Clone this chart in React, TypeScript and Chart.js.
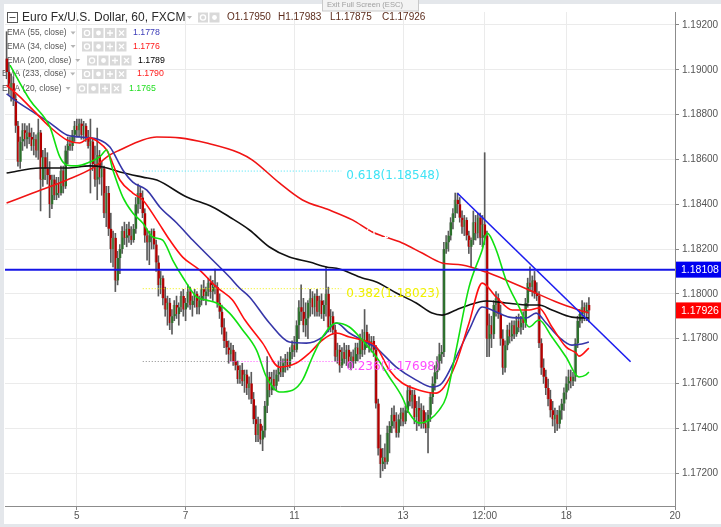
import React, { useEffect, useRef } from "react";
import { Chart, registerables } from "chart.js";
Chart.register(...registerables);

// ---------- data ----------
const candleOpen = [
1.1905,1.1899,1.1892,1.1894,1.1887,1.1875,1.1859,1.1868,1.1873,1.1869,
1.1872,1.1870,1.1866,1.1869,1.1864,1.1872,1.1851,1.1861,1.1856,1.1853,
1.1840,1.1851,1.1844,1.1849,1.1845,1.1855,1.1848,1.1864,1.1867,1.1866,
1.1871,1.1875,1.1873,1.1876,1.1871,1.1875,1.1870,1.1866,1.1868,1.1858,
1.1851,1.1862,1.1852,1.1856,1.1836,1.1845,1.1829,1.1820,1.1825,1.1806,
1.1816,1.1820,1.1828,1.1825,1.1829,1.1826,1.1824,1.1829,1.1840,1.1845,
1.1843,1.1836,1.1826,1.1823,1.1826,1.1828,1.1822,1.1814,1.1804,1.1807,
1.1798,1.1793,1.1796,1.1787,1.1790,1.1795,1.1791,1.1794,1.1799,1.1793,
1.1796,1.1801,1.1795,1.1797,1.1800,1.1794,1.1797,1.1802,1.1799,1.1801,
1.1805,1.1801,1.1804,1.1803,1.1796,1.1792,1.1785,1.1779,1.1776,1.1773,
1.1775,1.1770,1.1768,1.1762,1.1766,1.1761,1.1764,1.1758,1.1760,1.1753,
1.1744,1.1737,1.1742,1.1735,1.1739,1.1750,1.1763,1.1757,1.1762,1.1759,
1.1764,1.1767,1.1765,1.1769,1.1771,1.1768,1.1774,1.1777,1.1775,1.1786,
1.1794,1.1792,1.1786,1.1789,1.1796,1.1798,1.1794,1.1799,1.1792,1.1797,
1.1791,1.1795,1.1800,1.1785,1.1790,1.1784,1.1772,1.1775,1.1768,1.1774,
1.1771,1.1775,1.1769,1.1772,1.1770,1.1776,1.1773,1.1780,1.1775,1.1783,
1.1779,1.1777,1.1779,1.1775,1.1751,1.1731,1.1724,1.1727,1.1725,1.1738,
1.1741,1.1746,1.1743,1.1738,1.1744,1.1747,1.1743,1.1748,1.1757,1.1752,
1.1755,1.1745,1.1749,1.1743,1.1748,1.1742,1.1740,1.1746,1.1754,1.1760,
1.1765,1.1770,1.1773,1.1774,1.1820,1.1823,1.1826,1.1832,1.1836,1.1842,
1.1840,1.1834,1.1830,1.1833,1.1826,1.1821,1.1824,1.1832,1.1827,1.1834,
1.1825,1.1831,1.1826,1.1780,1.1786,1.1782,1.1795,1.1798,1.1791,1.1780,
1.1767,1.1777,1.1784,1.1781,1.1786,1.1782,1.1788,1.1785,1.1789,1.1787,
1.1796,1.1805,1.1803,1.1806,1.1800,1.1799,1.1778,1.1767,1.1763,1.1758,
1.1753,1.1748,1.1744,1.1746,1.1742,1.1748,1.1751,1.1756,1.1760,1.1763,
1.1761,1.1763,1.1778,1.1788,1.1791,1.1794,1.1792,1.17950];

const candleHigh = [
1.1917,1.1903,1.1898,1.1897,1.1889,1.1877,1.1870,1.1876,1.1876,1.1875,
1.1876,1.1874,1.1872,1.1871,1.1878,1.1873,1.1864,1.1865,1.1863,1.1859,
1.1853,1.1853,1.1852,1.1852,1.1857,1.1857,1.1866,1.1870,1.1870,1.1873,
1.1877,1.1878,1.1878,1.1878,1.1877,1.1876,1.1873,1.1878,1.1869,1.1866,
1.1874,1.1864,1.1859,1.1857,1.1848,1.1848,1.1836,1.1828,1.1827,1.1819,
1.1822,1.1830,1.1832,1.1831,1.1832,1.1830,1.1831,1.1843,1.1849,1.1848,
1.1846,1.1838,1.1829,1.1828,1.1829,1.1829,1.1824,1.1817,1.1810,1.1808,
1.1803,1.1799,1.1798,1.1793,1.1797,1.1799,1.1796,1.1801,1.1802,1.1798,
1.1804,1.1803,1.1799,1.1802,1.1801,1.1799,1.1804,1.1806,1.1803,1.1807,
1.1808,1.1806,1.1811,1.1805,1.1800,1.1795,1.1789,1.1783,1.1779,1.1778,
1.1777,1.1774,1.1770,1.1768,1.1769,1.1766,1.1766,1.1763,1.1765,1.1756,
1.1750,1.1745,1.1744,1.1741,1.1752,1.1772,1.1765,1.1765,1.1766,1.1766,
1.1770,1.1772,1.1771,1.1773,1.1774,1.1776,1.1779,1.1781,1.1788,1.1797,
1.1804,1.1798,1.1796,1.1797,1.1802,1.1801,1.1800,1.1802,1.1799,1.1800,
1.1797,1.1812,1.1803,1.1793,1.1792,1.1786,1.1778,1.1777,1.1776,1.1778,
1.1777,1.1777,1.1774,1.1775,1.1778,1.1778,1.1782,1.1784,1.1793,1.1786,
1.1782,1.1781,1.1781,1.1777,1.1753,1.1737,1.1731,1.1733,1.1741,1.1743,
1.1749,1.1750,1.1747,1.1746,1.1749,1.1749,1.1750,1.1759,1.1759,1.1757,
1.1757,1.1752,1.1754,1.1751,1.1750,1.1747,1.1748,1.1756,1.1763,1.1768,
1.1772,1.1778,1.1777,1.1823,1.1826,1.1828,1.1834,1.1838,1.1845,1.1845,
1.1843,1.1837,1.1835,1.1834,1.1828,1.1825,1.1837,1.1835,1.1836,1.1836,
1.1835,1.1863,1.1828,1.1791,1.1790,1.1797,1.1801,1.1800,1.1795,1.1784,
1.1779,1.1786,1.1787,1.1788,1.1788,1.1790,1.1791,1.1790,1.1792,1.1798,
1.1807,1.1812,1.1808,1.1810,1.1805,1.1801,1.1780,1.1771,1.1766,1.1762,
1.1757,1.1752,1.1749,1.1748,1.1750,1.1753,1.1758,1.1763,1.1766,1.1766,
1.1765,1.1780,1.1790,1.1793,1.1797,1.1796,1.1796,1.17983];

const candleLow = [
1.1896,1.1889,1.1886,1.1884,1.1872,1.1857,1.1856,1.1864,1.1866,1.1865,
1.1867,1.1864,1.1862,1.1861,1.1860,1.1837,1.1848,1.1851,1.1849,1.1834,
1.1838,1.1842,1.1842,1.1843,1.1844,1.1845,1.1847,1.1858,1.1864,1.1864,
1.1868,1.1870,1.1870,1.1869,1.1869,1.1868,1.1865,1.1845,1.1855,1.1848,
1.1842,1.1849,1.1844,1.1834,1.1830,1.1826,1.1814,1.1812,1.1801,1.1804,
1.1809,1.1818,1.1822,1.1821,1.1823,1.1822,1.1823,1.1827,1.1836,1.1838,
1.1834,1.1823,1.1815,1.1813,1.1820,1.1820,1.1810,1.1799,1.1800,1.1795,
1.1790,1.1786,1.1784,1.1782,1.1788,1.1789,1.1786,1.1792,1.1790,1.1788,
1.1794,1.1793,1.1790,1.1794,1.1791,1.1791,1.1795,1.1797,1.1795,1.1799,
1.1798,1.1797,1.1800,1.1794,1.1789,1.1782,1.1776,1.1773,1.1769,1.1770,
1.1768,1.1766,1.1760,1.1760,1.1759,1.1756,1.1755,1.1753,1.1751,1.1742,
1.1734,1.1734,1.1733,1.1730,1.1736,1.1747,1.1754,1.1755,1.1757,1.1757,
1.1761,1.1763,1.1763,1.1765,1.1766,1.1767,1.1771,1.1772,1.1774,1.1780,
1.1788,1.1783,1.1781,1.1780,1.1790,1.1791,1.1790,1.1790,1.1790,1.1789,
1.1788,1.1790,1.1783,1.1783,1.1782,1.1770,1.1769,1.1765,1.1767,1.1769,
1.1768,1.1767,1.1766,1.1767,1.1769,1.1770,1.1771,1.1772,1.1773,1.1776,
1.1774,1.1774,1.1772,1.1749,1.1728,1.1718,1.1721,1.1722,1.1724,1.1729,
1.1738,1.1740,1.1736,1.1736,1.1741,1.1741,1.1742,1.1747,1.1750,1.1749,
1.1742,1.1739,1.1741,1.1740,1.1740,1.1738,1.1729,1.1743,1.1751,1.1757,
1.1762,1.1766,1.1769,1.1772,1.1818,1.1819,1.1824,1.1829,1.1834,1.1836,
1.1832,1.1827,1.1826,1.1824,1.1818,1.1812,1.1822,1.1824,1.1825,1.1822,
1.1821,1.1822,1.1772,1.1772,1.1776,1.1780,1.1790,1.1789,1.1777,1.1764,
1.1765,1.1775,1.1778,1.1779,1.1780,1.1781,1.1783,1.1782,1.1784,1.1785,
1.1794,1.1801,1.1799,1.1798,1.1797,1.1776,1.1764,1.1760,1.1755,1.1750,
1.1745,1.1741,1.1738,1.1739,1.1740,1.1744,1.1748,1.1753,1.1757,1.1758,
1.1759,1.1761,1.1776,1.1785,1.1787,1.1788,1.1788,1.17875];

const candleClose = [
1.1899,1.1892,1.1894,1.1887,1.1875,1.1859,1.1868,1.1873,1.1869,1.1872,
1.1870,1.1866,1.1869,1.1864,1.1872,1.1851,1.1861,1.1856,1.1853,1.1840,
1.1851,1.1844,1.1849,1.1845,1.1855,1.1848,1.1864,1.1867,1.1866,1.1871,
1.1875,1.1873,1.1876,1.1871,1.1875,1.1870,1.1866,1.1868,1.1858,1.1851,
1.1862,1.1852,1.1856,1.1836,1.1845,1.1829,1.1820,1.1825,1.1806,1.1816,
1.1820,1.1828,1.1825,1.1829,1.1826,1.1824,1.1829,1.1840,1.1845,1.1843,
1.1836,1.1826,1.1823,1.1826,1.1828,1.1822,1.1814,1.1804,1.1807,1.1798,
1.1793,1.1796,1.1787,1.1790,1.1795,1.1791,1.1794,1.1799,1.1793,1.1796,
1.1801,1.1795,1.1797,1.1800,1.1794,1.1797,1.1802,1.1799,1.1801,1.1805,
1.1801,1.1804,1.1803,1.1796,1.1792,1.1785,1.1779,1.1776,1.1773,1.1775,
1.1770,1.1768,1.1762,1.1766,1.1761,1.1764,1.1758,1.1760,1.1753,1.1744,
1.1737,1.1742,1.1735,1.1739,1.1750,1.1763,1.1757,1.1762,1.1759,1.1764,
1.1767,1.1765,1.1769,1.1771,1.1768,1.1774,1.1777,1.1775,1.1786,1.1794,
1.1792,1.1786,1.1789,1.1796,1.1798,1.1794,1.1799,1.1792,1.1797,1.1791,
1.1795,1.1800,1.1785,1.1790,1.1784,1.1772,1.1775,1.1768,1.1774,1.1771,
1.1775,1.1769,1.1772,1.1770,1.1776,1.1773,1.1780,1.1775,1.1783,1.1779,
1.1777,1.1779,1.1775,1.1751,1.1731,1.1724,1.1727,1.1725,1.1738,1.1741,
1.1746,1.1743,1.1738,1.1744,1.1747,1.1743,1.1748,1.1757,1.1752,1.1755,
1.1745,1.1749,1.1743,1.1748,1.1742,1.1740,1.1746,1.1754,1.1760,1.1765,
1.1770,1.1773,1.1774,1.1820,1.1823,1.1826,1.1832,1.1836,1.1842,1.1840,
1.1834,1.1830,1.1833,1.1826,1.1821,1.1824,1.1832,1.1827,1.1834,1.1825,
1.1831,1.1826,1.1780,1.1786,1.1782,1.1795,1.1798,1.1791,1.1780,1.1767,
1.1777,1.1784,1.1781,1.1786,1.1782,1.1788,1.1785,1.1789,1.1787,1.1796,
1.1805,1.1803,1.1806,1.1800,1.1799,1.1778,1.1767,1.1763,1.1758,1.1753,
1.1748,1.1744,1.1746,1.1742,1.1748,1.1751,1.1756,1.1760,1.1763,1.1761,
1.1763,1.1778,1.1788,1.1791,1.1794,1.1792,1.1795,1.17926];

const ema55 = [[0,1.18893],[2.4,1.18874],[11.6,1.18812],[19.1,1.18763],[26.6,1.18709],[32.3,1.187],[41.1,1.18687],[45.6,1.18655],[51.3,1.18553],[55.7,1.18499],[61.9,1.18463],[67.6,1.18388],[75.1,1.18316],[82.1,1.1824],[90.9,1.18151],[98.4,1.18075],[102.8,1.18026],[107.2,1.17986],[116,1.1787],[124.8,1.17785],[132.3,1.1778],[139.4,1.17807],[145.5,1.1787],[151.3,1.17825],[157,1.17794],[163.2,1.17758],[172,1.17673],[180.8,1.17615],[187.8,1.17584],[192.2,1.17602],[198.4,1.17718],[204.1,1.17838],[209.9,1.17941],[216.1,1.17919],[221.8,1.17896],[229.3,1.17892],[233.7,1.17914],[238.1,1.1787],[243.8,1.17807],[249.5,1.17771],[253.9,1.17776],[257,1.17785]];
const ema34 = [[0,1.18932],[5.9,1.18879],[11.6,1.18821],[19.1,1.18745],[26.6,1.18687],[32.3,1.18673],[36.7,1.18696],[41.1,1.18673],[44.2,1.18642],[50,1.18508],[55.7,1.1845],[60.1,1.18419],[66.3,1.18329],[72,1.1824],[77.7,1.18164],[85.2,1.18106],[92.7,1.1803],[99.7,1.17972],[105.2,1.17883],[113,1.1778],[120.4,1.17673],[127.9,1.17691],[133.7,1.17736],[139.4,1.17794],[145.5,1.17825],[151.3,1.17807],[157,1.17794],[163.2,1.17763],[168.9,1.1766],[174.6,1.17602],[182.1,1.1757],[189.6,1.17557],[193.1,1.17584],[198.4,1.17691],[204.1,1.1787],[209.9,1.18048],[216.1,1.17986],[223.2,1.17928],[230.6,1.17928],[235,1.17937],[240.7,1.17852],[246.9,1.17763],[251.3,1.17736],[252.6,1.17722],[257,1.17758]];
const ema200 = [[0,1.18539],[14.7,1.18562],[26.6,1.18562],[36.7,1.18571],[42.5,1.18566],[50,1.18544],[60.1,1.18521],[66.3,1.18508],[79.5,1.18432],[90.9,1.18388],[98.4,1.18343],[107.2,1.18285],[116,1.18209],[124.8,1.18164],[133.7,1.18142],[141.1,1.1812],[146.9,1.18111],[157,1.18071],[163.2,1.18053],[172,1.18004],[180.8,1.17959],[187.8,1.17914],[192.2,1.17905],[198.4,1.17928],[204.1,1.1795],[211.6,1.17968],[220.4,1.17959],[230.6,1.1795],[235,1.1795],[240.7,1.17928],[249.5,1.17896],[257,1.17892]];
const ema233 = [[0,1.18405],[11.6,1.1845],[26.6,1.18508],[38.1,1.18562],[45.6,1.1862],[50,1.18642],[60.1,1.18687],[66.3,1.187],[76.4,1.18696],[88.3,1.18673],[102.8,1.18629],[108.5,1.18597],[120.4,1.18495],[130.6,1.18419],[142.5,1.18374],[152.6,1.1833],[161.4,1.18276],[174.6,1.18227],[183.4,1.18182],[192.2,1.18138],[201,1.18129],[211.6,1.18097],[220.4,1.18062],[230.6,1.18017],[243.8,1.17959],[252.6,1.17928],[257,1.17914]];
const ema20 = [[1.5,1.19021],[10.3,1.18865],[19.1,1.18745],[23.5,1.18611],[26.6,1.18575],[31,1.18571],[36.7,1.18588],[41.1,1.18611],[44.2,1.18642],[46.9,1.18553],[51.3,1.18432],[55.7,1.18361],[60.1,1.18316],[64.5,1.18254],[68.9,1.1824],[73.3,1.18151],[77.7,1.18075],[83.9,1.17986],[88.3,1.17972],[92.7,1.17959],[98.4,1.17914],[104.1,1.1784],[110.3,1.17749],[114.7,1.17629],[120.4,1.17562],[126.2,1.1757],[130.6,1.17615],[135,1.17718],[139.4,1.17807],[145.5,1.1787],[151.3,1.17852],[157,1.17794],[163.2,1.17718],[168.9,1.17629],[174.6,1.17539],[177.7,1.17468],[182.1,1.17423],[186.5,1.17437],[190.9,1.17481],[194,1.17539],[198.4,1.1775],[204.1,1.1803],[209.9,1.18196],[212.1,1.18271],[216.1,1.18196],[220.4,1.18062],[226.2,1.17941],[230.6,1.17852],[235,1.17883],[240.7,1.17807],[246.9,1.17718],[252.6,1.17629],[255.7,1.17638],[257,1.17651]];

const priceTicks = [1.172, 1.174, 1.176, 1.178, 1.18, 1.182, 1.184, 1.186, 1.188, 1.19, 1.192];
const timeTickPos = [31, 79, 127, 175, 211, 247, 295];
const timeTickLabels = ["5", "7", "11", "13", "12:00", "18", "20"];

const fibRatios = ["0.618", "0.5", "0.382", "0.236"];
const fibPrices = [1.18548, 1.18286, 1.18023, 1.17698];
const fibColors = ["#3fe3f5", "#ffffff", "#f0f000", "#ff4dff"];
const fibStart = 60.1;
const fibMid = 98.4;
const fibEnd = 147.7;

const trendLine = [[199, 1.18449], [275.4, 1.17697]];
const supportPrice = 1.18108;
const lastPrice = 1.17926;

const ohlcLabels = ["O", "H", "L", "C"];
const ohlcValues = ["1.17950", "1.17983", "1.17875", "1.17926"];

const legendNames = ["EMA (55, close)", "EMA (34, close)", "EMA (200, close)", "EMA (233, close)", "EMA (20, close)"];
const legendValues = ["1.1778", "1.1776", "1.1789", "1.1790", "1.1765"];
const legendColors = ["#3c3cb8", "#ff1a1a", "#000000", "#ff1a1a", "#22dd22"];

// ---------- helpers ----------
const pts = (a: number[][]) => a.map(([x, y]) => ({ x, y }));
const FONT = "'Liberation Sans', Arial, sans-serif";

function drawIcons(ctx: CanvasRenderingContext2D, x0: number, yc: number, n: number) {
  for (let k = 0; k < n; k++) {
    const x = x0 + k * 11.5;
    ctx.fillStyle = "#d9d9d9";
    ctx.fillRect(x, yc - 5, 10, 10);
    ctx.strokeStyle = "#ffffff";
    ctx.fillStyle = "#ffffff";
    ctx.lineWidth = 1.3;
    const cx = x + 5, cy = yc;
    ctx.beginPath();
    if (k === 0) {
      ctx.arc(cx, cy, 2.6, 0, Math.PI * 2);
      ctx.stroke();
    } else if (k === 1) {
      ctx.arc(cx, cy, 2.4, 0, Math.PI * 2);
      ctx.fill();
    } else if (k === 2) {
      ctx.moveTo(cx - 3, cy); ctx.lineTo(cx + 3, cy);
      ctx.moveTo(cx, cy - 3); ctx.lineTo(cx, cy + 3);
      ctx.stroke();
    } else {
      ctx.moveTo(cx - 2.5, cy - 2.5); ctx.lineTo(cx + 2.5, cy + 2.5);
      ctx.moveTo(cx + 2.5, cy - 2.5); ctx.lineTo(cx - 2.5, cy + 2.5);
      ctx.stroke();
    }
  }
}

function drawArrow(ctx: CanvasRenderingContext2D, x: number, yc: number) {
  ctx.fillStyle = "#b5b5b5";
  ctx.beginPath();
  ctx.moveTo(x, yc - 1.5);
  ctx.lineTo(x + 5, yc - 1.5);
  ctx.lineTo(x + 2.5, yc + 1.5);
  ctx.closePath();
  ctx.fill();
}

const overlay = {
  id: "overlay",
  beforeDraw(chart: any) {
    const { ctx, width, height } = chart;
    ctx.save();
    ctx.fillStyle = "#e4e7eb";
    ctx.fillRect(0, 0, width, height);
    ctx.fillStyle = "#ffffff";
    ctx.fillRect(4, 4, width - 4, 520);
    ctx.restore();
  },
  beforeDatasetsDraw(chart: any) {
    const ctx: CanvasRenderingContext2D = chart.ctx;
    ctx.save();
    // header
    ctx.strokeStyle = "#555";
    ctx.lineWidth = 1;
    ctx.strokeRect(7.5, 12.5, 10, 10);
    ctx.beginPath();
    ctx.moveTo(9.5, 17.5); ctx.lineTo(15.5, 17.5);
    ctx.stroke();
    ctx.fillStyle = "#2b2b2b";
    ctx.font = `12px ${FONT}`;
    ctx.textBaseline = "middle";
    ctx.fillText("Euro Fx/U.S. Dollar, 60, FXCM", 22, 17.5);
    drawArrow(ctx, 187, 17.5);
    drawIcons(ctx, 198, 17.5, 2);
    ctx.font = `10px ${FONT}`;
    ctx.fillStyle = "#5c2c1c";
    const ox = [227, 278, 330, 382];
    for (let k = 0; k < 4; k++) {
      ctx.fillText(ohlcLabels[k] + ohlcValues[k], ox[k], 17.5);
    }
    // legend rows
    const rowY = [33, 46.5, 60.5, 74, 88.5];
    const rowX = [7, 7, 7, 2, 2];
    const iconX = [82, 82, 87, 82, 77];
    const valX = [133, 133, 138, 137, 129];
    for (let r = 0; r < 5; r++) {
      ctx.font = `8.4px ${FONT}`;
      ctx.fillStyle = "#555";
      ctx.fillText(legendNames[r], rowX[r], rowY[r]);
      const w = ctx.measureText(legendNames[r]).width;
      drawArrow(ctx, rowX[r] + w + 4, rowY[r]);
      drawIcons(ctx, iconX[r], rowY[r], 4);
      ctx.fillStyle = legendColors[r];
      ctx.font = `8.8px ${FONT}`;
      ctx.fillText(legendValues[r], valX[r], rowY[r]);
    }
    ctx.restore();
  },
  afterDatasetsDraw(chart: any) {
    const ctx: CanvasRenderingContext2D = chart.ctx;
    const ys = chart.scales.y;
    const xs = chart.scales.x;
    ctx.save();
    ctx.font = "12px 'DejaVu Sans', sans-serif";
    ctx.textBaseline = "middle";
    const lx = xs.getPixelForValue(fibEnd) + 5;
    for (let k = 0; k < fibRatios.length; k++) {
      const y = ys.getPixelForValue(fibPrices[k]);
      ctx.fillStyle = fibColors[k];
      ctx.fillText(`${fibRatios[k]}(${fibPrices[k].toFixed(5)})`, lx, y + 5);
    }
    ctx.restore();
  },
  afterDraw(chart: any) {
    const ctx: CanvasRenderingContext2D = chart.ctx;
    const ys = chart.scales.y;
    ctx.save();
    ctx.font = `10.5px ${FONT}`;
    ctx.textBaseline = "middle";
    const boxes: [number, string][] = [[supportPrice, "#0000f0"], [lastPrice, "#ff0000"]];
    for (const [p, c] of boxes) {
      const y = ys.getPixelForValue(p);
      ctx.fillStyle = c;
      ctx.fillRect(676, y - 8, 45, 16);
      ctx.fillStyle = "#ffffff";
      ctx.fillText(p.toFixed(5), 681, y + 0.5);
    }
    // exit full screen hint
    ctx.fillStyle = "#f3f3f3";
    ctx.fillRect(322, -1, 96, 12);
    ctx.strokeStyle = "#c9c9c9";
    ctx.lineWidth = 1;
    ctx.strokeRect(322.5, -0.5, 96, 11.5);
    ctx.fillStyle = "#a0a0a0";
    ctx.font = `7.6px ${FONT}`;
    ctx.fillText("Exit Full Screen (ESC)", 327, 5);
    // bottom band
    ctx.fillStyle = "#e4e7eb";
    ctx.fillRect(0, 524, chart.width, 3);
    ctx.restore();
  },
};

export default function App() {
  const ref = useRef<HTMLCanvasElement | null>(null);
  useEffect(() => {
    document.body.style.margin = "0";
    const canvas = ref.current!;
    const up = "#2c702c";
    const down = "#b40000";
    const lineDs = (label: string, data: number[][], color: string, width: number, order: number, extra: any = {}) => ({
      type: "line" as const,
      label,
      data: pts(data),
      borderColor: color,
      borderWidth: width,
      pointRadius: 0,
      cubicInterpolationMode: "monotone",
      order,
      ...extra,
    });
    const fibLine = (p: number, a: number, b: number, color: string) => ({
      type: "line" as const,
      data: [{ x: a, y: p }, { x: b, y: p }],
      borderColor: color,
      borderWidth: 1,
      borderDash: [1, 2],
      pointRadius: 0,
      order: 9,
    });
    const chart = new Chart(canvas, {
      type: "bar",
      data: {
        datasets: [
          lineDs("trend", trendLine, "#1c1cf0", 1.6, 1, { cubicInterpolationMode: "default", tension: 0 }),
          lineDs("support", [[-0.7, supportPrice], [295, supportPrice]], "#1414e6", 2, 2, { cubicInterpolationMode: "default", tension: 0 }),
          lineDs("ema20", ema20, "#10e010", 1.6, 3),
          lineDs("ema34", ema34, "#ff1010", 1.6, 4),
          lineDs("ema55", ema55, "#3636a8", 1.6, 5),
          lineDs("ema200", ema200, "#111111", 1.6, 6),
          lineDs("ema233", ema233, "#f01414", 1.6, 7),
          fibLine(fibPrices[0], fibStart, fibEnd, fibColors[0]) as any,
          fibLine(fibPrices[2], fibStart, fibEnd, fibColors[2]) as any,
          fibLine(fibPrices[3], fibStart, fibMid, "#8a8a8a") as any,
          fibLine(fibPrices[3], fibMid, fibEnd, fibColors[3]) as any,
          {
            type: "bar" as const,
            label: "bodies",
            data: candleOpen.map((o, i) => ({ x: i, y: [o, candleClose[i]] })) as any,
            backgroundColor: (c: any) => (candleClose[c.dataIndex] >= candleOpen[c.dataIndex] ? up : down),
            borderColor: "#b0b0b0",
            borderWidth: { left: 1, right: 0, top: 0, bottom: 0 },
            borderSkipped: false,
            barThickness: 3,
            minBarLength: 1,
            grouped: false,
            order: 10,
          },
          {
            type: "bar" as const,
            label: "wicks",
            data: candleHigh.map((h, i) => ({ x: i, y: [candleLow[i], h] })) as any,
            backgroundColor: "#5a5a5a",
            barThickness: 1,
            grouped: false,
            order: 11,
          },
        ] as any,
      },
      options: {
        animation: false,
        responsive: false,
        devicePixelRatio: 1,
        layout: { padding: { left: 5, top: 12, right: 0, bottom: 0 } },
        plugins: { legend: { display: false }, tooltip: { enabled: false } },
        scales: {
          x: {
            type: "linear",
            min: -0.7,
            max: 295,
            offset: false,
            grid: { offset: false, color: "#ebebeb", tickColor: "#888", tickLength: 4 },
            border: { color: "#8c8c8c" },
            ticks: {
              autoSkip: false,
              maxRotation: 0,
              padding: 0,
              color: "#555",
              font: { size: 10, family: FONT },
              callback: (v: any) => {
                const k = timeTickPos.indexOf(Number(v));
                return k >= 0 ? timeTickLabels[k] : "";
              },
            },
            afterBuildTicks: (s: any) => {
              s.ticks = timeTickPos.map((v) => ({ value: v }));
            },
            afterFit: (s: any) => {
              s.height = 21;
            },
          },
          y: {
            type: "linear",
            position: "right",
            min: 1.17053,
            max: 1.19258,
            grid: { color: "#ebebeb", tickColor: "#888", tickLength: 4 },
            border: { color: "#8c8c8c" },
            ticks: {
              padding: 3,
              color: "#555",
              font: { size: 10, family: FONT },
              callback: (v: any) => Number(v).toFixed(5),
            },
            afterBuildTicks: (s: any) => {
              s.ticks = priceTicks.map((v) => ({ value: v }));
            },
            afterFit: (s: any) => {
              s.width = 46;
            },
          },
        },
      } as any,
      plugins: [overlay as any],
    });
    return () => chart.destroy();
  }, []);
  return <canvas ref={ref} width={721} height={527} style={{ display: "block" }} />;
}
